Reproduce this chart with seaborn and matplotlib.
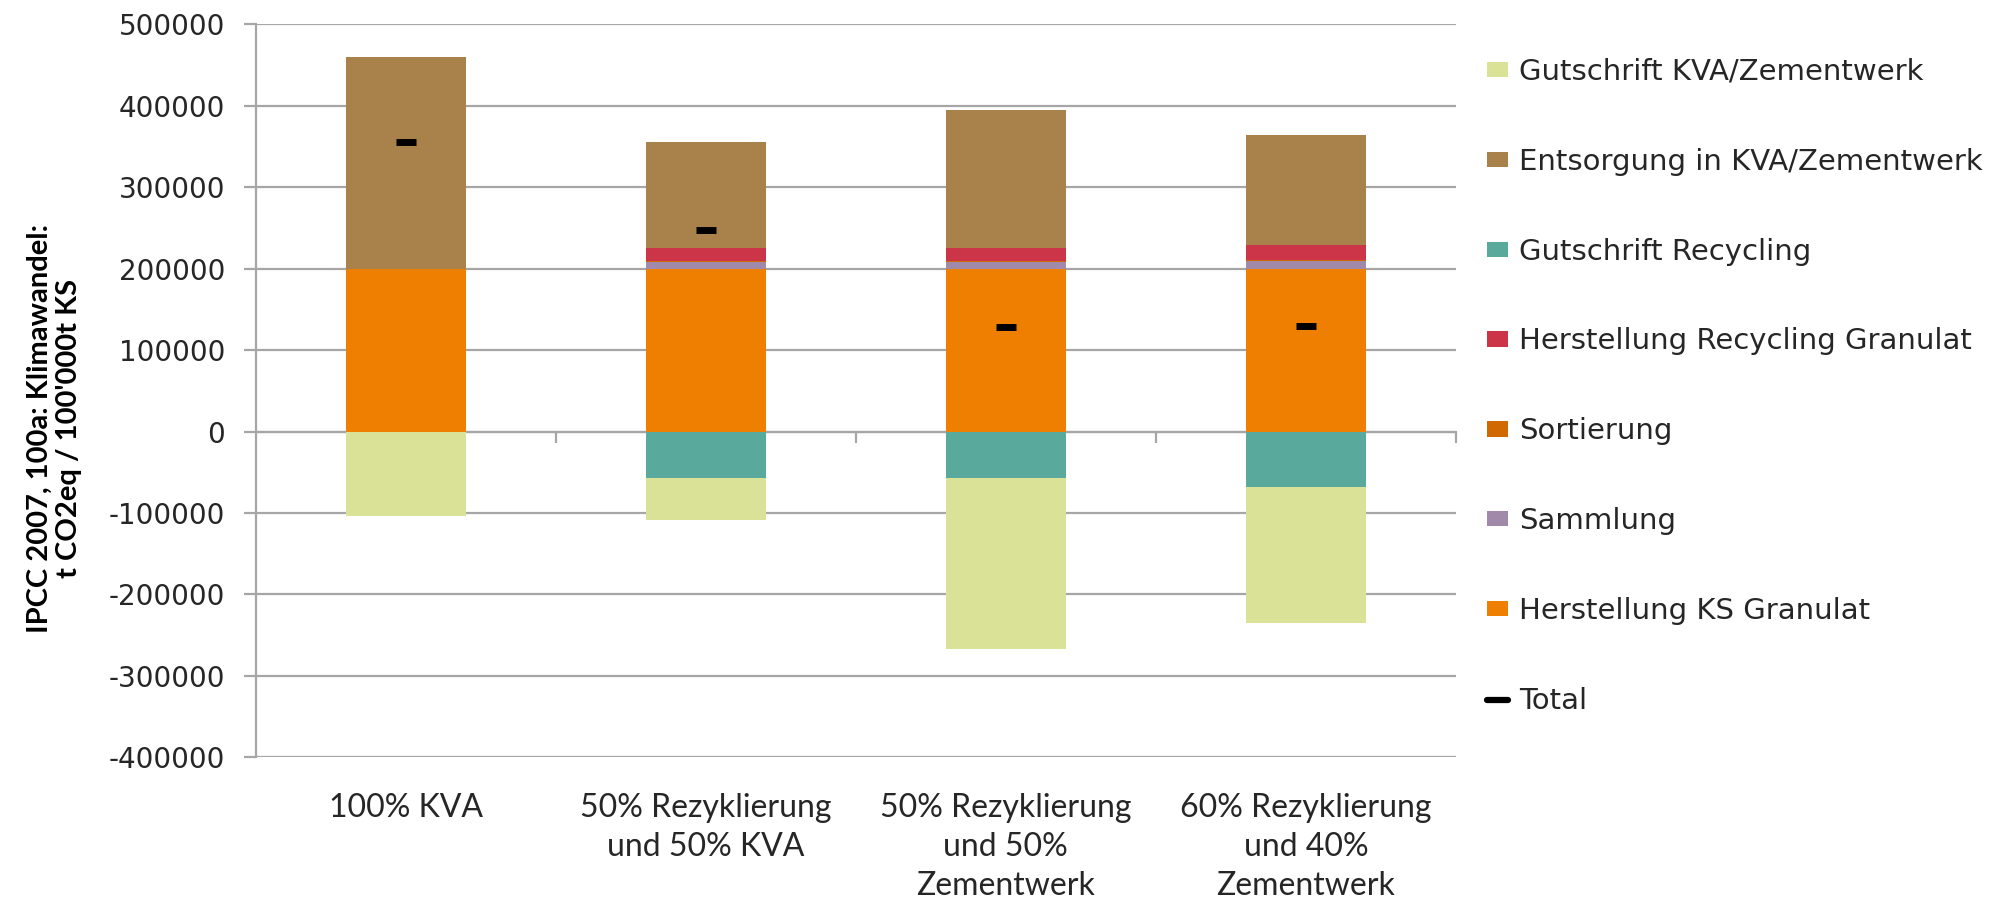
import matplotlib
matplotlib.use("Agg")
import matplotlib.pyplot as plt
import seaborn as sns
import pandas as pd
import numpy as np
from matplotlib.patches import Patch
from matplotlib.lines import Line2D
from matplotlib.ticker import FuncFormatter, NullFormatter

# Szenarien (x-Achse)
szenarien = [
    "100% KVA",
    "50% Rezyklierung\nund 50% KVA",
    "50% Rezyklierung\nund 50%\nZementwerk",
    "60% Rezyklierung\nund 40%\nZementwerk",
]

# Beiträge in t CO2eq / 100'000 t KS
herstellung_ks = [200000, 200000, 200000, 200000]
sammlung = [0, 8500, 8500, 9000]
sortierung = [0, 1200, 1200, 1500]
herstellung_recycling = [0, 15500, 15500, 18000]
entsorgung = [260000, 130800, 169800, 135500]
gutschrift_recycling = [0, -57000, -57000, -68000]
gutschrift_kva = [-104000, -51500, -209500, -167000]

# Farben
c_ks = "#EF7F00"
c_samml = "#A089A9"
c_sort = "#D06A00"
c_herst_rec = "#CC3548"
c_entsorg = "#A8824A"
c_gut_rec = "#5AA99D"
c_gut_kva = "#D9E296"
c_grid = "#A6A6A6"
c_text = "#262626"

sns.set_style("white")
plt.rcParams["font.family"] = ["DejaVu Sans"]

narrow = ["Lato", "DejaVu Sans"]

fig = plt.figure(figsize=(19.98, 9.06), dpi=100)
ax = fig.add_axes([0.128, 0.1641, 0.6007, 0.8091])

pos_layers = [
    ("Herstellung KS Granulat", herstellung_ks, c_ks),
    ("Sammlung", sammlung, c_samml),
    ("Sortierung", sortierung, c_sort),
    ("Herstellung Recycling Granulat", herstellung_recycling, c_herst_rec),
    ("Entsorgung in KVA/Zementwerk", entsorgung, c_entsorg),
]
neg_layers = [
    ("Gutschrift Recycling", gutschrift_recycling, c_gut_rec),
    ("Gutschrift KVA/Zementwerk", gutschrift_kva, c_gut_kva),
]

# Gestapelte Balken: kumulierte Summen, von außen nach innen überlagert
pos_cum = np.cumsum([np.array(v, dtype=float) for _, v, _ in pos_layers], axis=0)
neg_cum = np.cumsum([np.array(v, dtype=float) for _, v, _ in neg_layers], axis=0)

for i in range(len(pos_layers) - 1, -1, -1):
    df = pd.DataFrame({"Szenario": szenarien, "Wert": pos_cum[i]})
    sns.barplot(data=df, x="Szenario", y="Wert", order=szenarien, color=pos_layers[i][2],
                width=0.4, saturation=1, linewidth=0, errorbar=None, ax=ax, zorder=2)
for i in range(len(neg_layers) - 1, -1, -1):
    df = pd.DataFrame({"Szenario": szenarien, "Wert": neg_cum[i]})
    sns.barplot(data=df, x="Szenario", y="Wert", order=szenarien, color=neg_layers[i][2],
                width=0.4, saturation=1, linewidth=0, errorbar=None, ax=ax, zorder=2)

# Total je Szenario
total = (np.sum([v for _, v, _ in pos_layers], axis=0)
         + np.sum([v for _, v, _ in neg_layers], axis=0))
df_tot = pd.DataFrame({"Szenario": szenarien, "Total": total})
sns.scatterplot(data=df_tot, x="Szenario", y="Total", marker="_", s=220,
                linewidth=5, color="black", legend=False, ax=ax, zorder=6)

ax.set_xlim(-0.5, 3.5)
ax.set_ylim(-400000, 500000)
ax.set_yticks(np.arange(-400000, 500001, 100000))
ax.yaxis.set_major_formatter(FuncFormatter(lambda v, p: f"{int(round(v))}"))
ax.yaxis.grid(True, color=c_grid, linewidth=1.6)
ax.set_axisbelow(True)

for s in ["top", "right", "bottom"]:
    ax.spines[s].set_visible(False)
ax.spines["left"].set_color(c_grid)
ax.spines["left"].set_linewidth(1.6)

ax.tick_params(axis="y", left=True, length=9, width=1.6, color=c_grid, pad=13,
               labelsize=20, labelcolor=c_text)
ax.tick_params(axis="x", bottom=False, length=0, pad=26, labelsize=23, labelcolor=c_text)
for lab in ax.get_xticklabels():
    lab.set_family(narrow)
    lab.set_linespacing(1.36)

ax.set_xlabel("")
ax.set_ylabel("IPCC 2007, 100a: Klimawandel:\nt CO2eq / 100'000t KS", fontsize=21,
              fontweight="bold", family=narrow, color="black", linespacing=1.15, va="center")
ax.yaxis.set_label_coords(-0.168, 0.449)

# Kategorienachse auf der Nulllinie
sec = ax.secondary_xaxis(0.4444)
sec.set_xticks([0.5, 1.5, 2.5, 3.5])
sec.xaxis.set_major_formatter(NullFormatter())
sec.tick_params(axis="x", length=8, width=1.6, color=c_grid, direction="out")
sec.spines["bottom"].set_color(c_grid)
sec.spines["bottom"].set_linewidth(1.6)

# Legende
handles = [Patch(facecolor=c, edgecolor="none", label=n) for n, _, c in
           [neg_layers[1], pos_layers[4], neg_layers[0], pos_layers[3],
            pos_layers[2], pos_layers[1], pos_layers[0]]]
handles.append(Line2D([0], [0], color="black", linewidth=4.5, label="Total"))
fig.legend(handles=handles, loc="upper left", bbox_to_anchor=(0.744, 0.936),
           frameon=False, fontsize=21, handlelength=0.72, handleheight=0.43,
           handletextpad=0.4, labelspacing=2.12, borderpad=0, borderaxespad=0,
           labelcolor=c_text)

fig.savefig("out.png", dpi=100)
